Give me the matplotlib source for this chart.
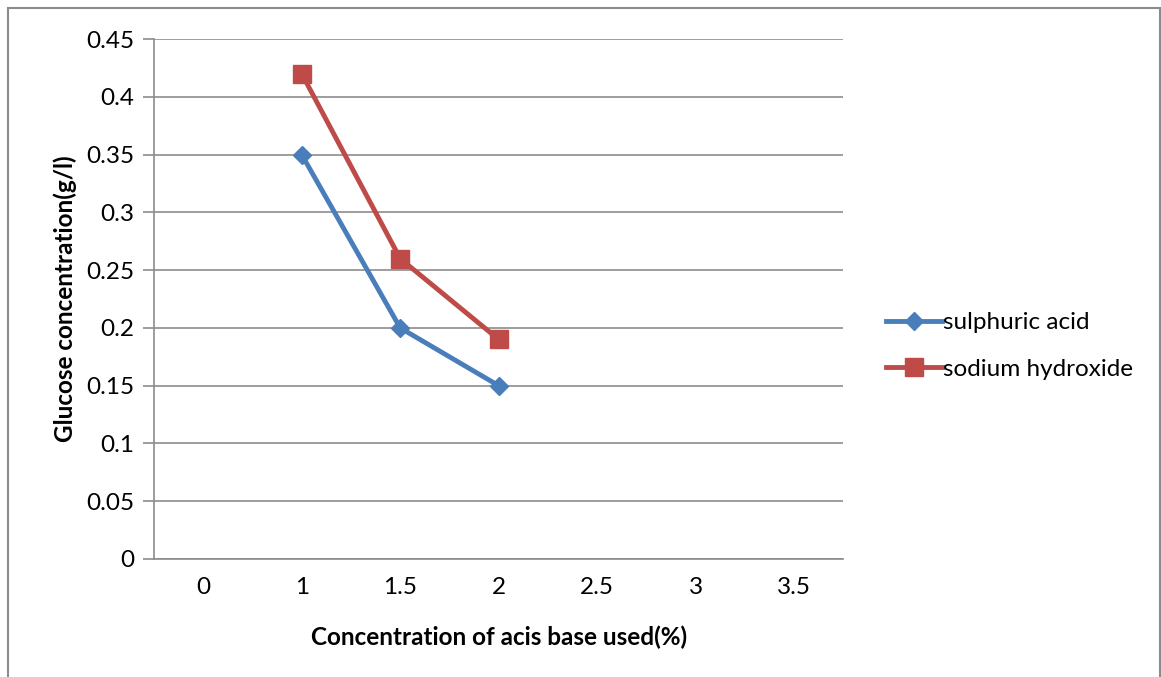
import matplotlib.pyplot as plt
from matplotlib.patches import Rectangle

categories = ['0', '1', '1.5', '2', '2.5', '3', '3.5']
sulphuric_x = [1, 2, 3]
sulphuric = [0.35, 0.20, 0.15]
sodium_x = [1, 2, 3]
sodium = [0.42, 0.26, 0.19]

plt.rcParams['font.family'] = ['Lato', 'DejaVu Sans']

fig = plt.figure(figsize=(11.61, 6.77), dpi=100)
ax = fig.add_axes([0.1326, 0.1743, 0.5939, 0.768])

# outer chart border
fig.patches.append(Rectangle((8/1161, -0.1), (1160-8)/1161, 1.1 - 8/677,
                             transform=fig.transFigure, fill=False,
                             edgecolor='#8c8c8c', linewidth=1.5))

ax.plot(sulphuric_x, sulphuric, color='#4A7EBB', lw=3.5, marker='D',
        markersize=9, label='sulphuric acid', zorder=3)
ax.plot(sodium_x, sodium, color='#BE4B48', lw=3.5, marker='s',
        markersize=13, label='sodium hydroxide', zorder=3)

ax.set_xlim(-0.5, 6.5)
ax.set_ylim(0, 0.45)
ax.set_xticks(range(len(categories)))
ax.set_xticklabels(categories)
ax.set_yticks([i * 0.05 for i in range(10)])
ax.set_yticklabels(['0', '0.05', '0.1', '0.15', '0.2', '0.25', '0.3', '0.35', '0.4', '0.45'])
ax.tick_params(axis='x', length=0, labelsize=17.5, pad=13)
ax.tick_params(axis='y', length=8, width=1.2, color='#8c8c8c', labelsize=17.5, pad=6)
ax.yaxis.grid(True, color='#8c8c8c', lw=1.2)
ax.set_axisbelow(True)
for s in ['top', 'right']:
    ax.spines[s].set_visible(False)
ax.spines['left'].set_color('#8c8c8c')
ax.spines['bottom'].set_color('#8c8c8c')
ax.spines['left'].set_linewidth(1.2)
ax.spines['bottom'].set_linewidth(1.2)

ax.set_xlabel('Concentration of acis base used(%)', fontsize=17.5, fontweight='bold', labelpad=20)
ax.set_ylabel('Glucose concentration(g/l)', fontsize=17.5, fontweight='bold', labelpad=7)

ax.legend(loc='center left', bbox_to_anchor=(1.03, 0.41), frameon=False, fontsize=17.5,
          handlelength=2.3, handletextpad=0.05, labelspacing=1.05)

fig.savefig('out.png', dpi=100)
